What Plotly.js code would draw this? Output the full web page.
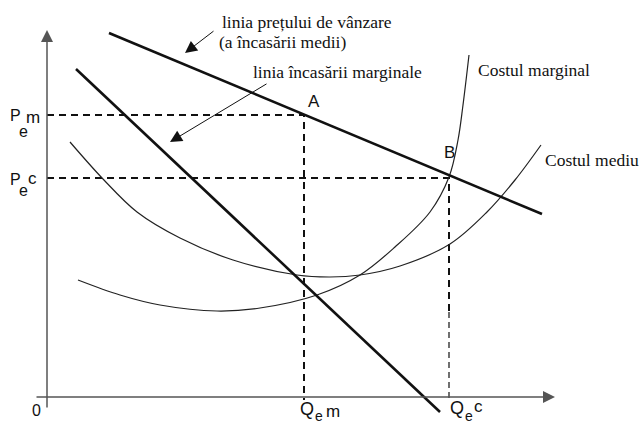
<!DOCTYPE html>
<html>
<head>
<meta charset="utf-8">
<script src="https://cdn.plot.ly/plotly-3.0.1.min.js"></script>
<style>html,body{margin:0;padding:0;background:#fff;}#chart{width:643px;height:424px;}</style>
</head>
<body>
<div id="chart"></div>
<script>
// Price (average revenue) line
const priceQ = [6.2, 49.5];
const priceP = [36.4, 18.3];
// Marginal revenue line
const mrQ = [2.9, 39.3];
const mrP = [32.8, -1.5];
// Marginal cost curve
const mcQ = [3.1, 7.3, 11.3, 17.0, 21.3, 27.0, 31.3, 34.8, 38.3, 40.2, 41.1, 41.6, 42.2];
const mcP = [11.7, 10.2, 9.2, 8.6, 8.9, 10.2, 12.2, 15.0, 18.5, 22.0, 25.7, 29.2, 34.2];
// Average cost curve
const acQ = [2.3, 5.6, 9.0, 13.3, 18.6, 25.0, 28.3, 31.3, 35.3, 40.3, 44.0, 46.8, 49.4];
const acP = [25.5, 21.8, 18.5, 15.9, 13.7, 12.2, 12.0, 12.2, 13.1, 15.3, 18.5, 21.7, 25.2];
// Equilibrium levels
const PEM = 28.2, PEC = 21.9, QEM = 25.7, QEC = 40.2;

const SANS = 'Liberation Sans, Arial, sans-serif';
const serif = {family: 'Liberation Serif, Times New Roman, serif', size: 17.5, color: '#111'};
function sf(size) { return {family: SANS, size: size, color: '#111'}; }
const dashStyle = {color: '#111', width: 2, dash: '7px,5px'};

const traces = [
  {x: [0, QEM, QEM], y: [PEM, PEM, -0.3], mode: 'lines', line: dashStyle},
  {x: [0, QEC, QEC], y: [PEC, PEC, 8.5], mode: 'lines', line: dashStyle},
  {x: [QEC, QEC], y: [8.5, -0.3], mode: 'lines', line: {color: '#111', width: 1.2, dash: '6px,4px'}},
  {x: acQ, y: acP, mode: 'lines', line: {color: '#222', width: 1.2, shape: 'spline'}},
  {x: mcQ, y: mcP, mode: 'lines', line: {color: '#222', width: 1.2, shape: 'spline'}},
  {x: priceQ, y: priceP, mode: 'lines', line: {color: '#111', width: 2.6}},
  {x: mrQ, y: mrP, mode: 'lines', line: {color: '#111', width: 2.6}}
];

function arrow(x, y, ax, ay, w, size, color) {
  return {x: x, y: y, ax: ax, ay: ay, xref: 'x', yref: 'y', axref: 'x', ayref: 'y',
    text: '', showarrow: true, arrowhead: 2, arrowsize: size, arrowwidth: w,
    arrowcolor: color, standoff: 0, startstandoff: 0};
}
function label(x, y, text, font, anchor) {
  return {x: x, y: y, xref: 'x', yref: 'y', text: text, showarrow: false,
    xanchor: anchor || 'left', yanchor: 'middle', font: font};
}

const annotations = [
  arrow(0, 36.7, 0, -1.2, 1.5, 1.6, '#555'),
  arrow(50.8, 0, -1.2, 0, 1.5, 1.6, '#555'),
  arrow(13.8, 34.4, 16.8, 36.7, 1, 2.4, '#111'),
  arrow(12.3, 25.5, 22.1, 31.4, 1, 2.4, '#111'),
  label(17.3, 37.5, 'linia prețului de vânzare', serif),
  label(17.0, 35.5, '(a încasării medii)', serif),
  label(20.4, 32.5, 'linia încasării marginale', serif),
  label(42.9, 32.7, 'Costul marginal', serif),
  label(49.6, 23.7, 'Costul mediu', serif),
  label(26.65, 29.55, 'A', sf(17), 'center'),
  label(40.25, 24.45, 'B', sf(17), 'center'),
  // P_e m
  label(-3.2, 28.2, 'P', sf(16), 'center'),
  label(-2.4, 26.6, 'e', sf(16), 'center'),
  label(-1.45, 27.95, 'm', sf(17), 'center'),
  // P_e c
  label(-3.2, 21.8, 'P', sf(16), 'center'),
  label(-2.35, 20.65, 'e', sf(16), 'center'),
  label(-1.45, 21.9, 'c', sf(17), 'center'),
  label(-1.1, -1.3, '0', sf(16), 'center'),
  // Q_e m
  label(26.0, -1.2, 'Q', sf(18), 'center'),
  label(27.2, -1.9, 'e', sf(14), 'center'),
  label(28.6, -1.4, 'm', sf(17), 'center'),
  // Q_e c
  label(40.95, -1.05, 'Q', sf(18), 'center'),
  label(42.2, -1.9, 'e', sf(14), 'center'),
  label(43.15, -0.97, 'c', sf(17), 'center')
];

const layout = {
  width: 643, height: 424,
  margin: {l: 0, r: 0, t: 0, b: 0},
  paper_bgcolor: '#fff', plot_bgcolor: '#fff',
  showlegend: false,
  xaxis: {range: [-4.7, 59.6], visible: false, fixedrange: true},
  yaxis: {range: [-2.7, 39.7], visible: false, fixedrange: true},
  annotations: annotations
};

Plotly.newPlot('chart', traces, layout, {staticPlot: true, displayModeBar: false});
</script>
</body>
</html>
